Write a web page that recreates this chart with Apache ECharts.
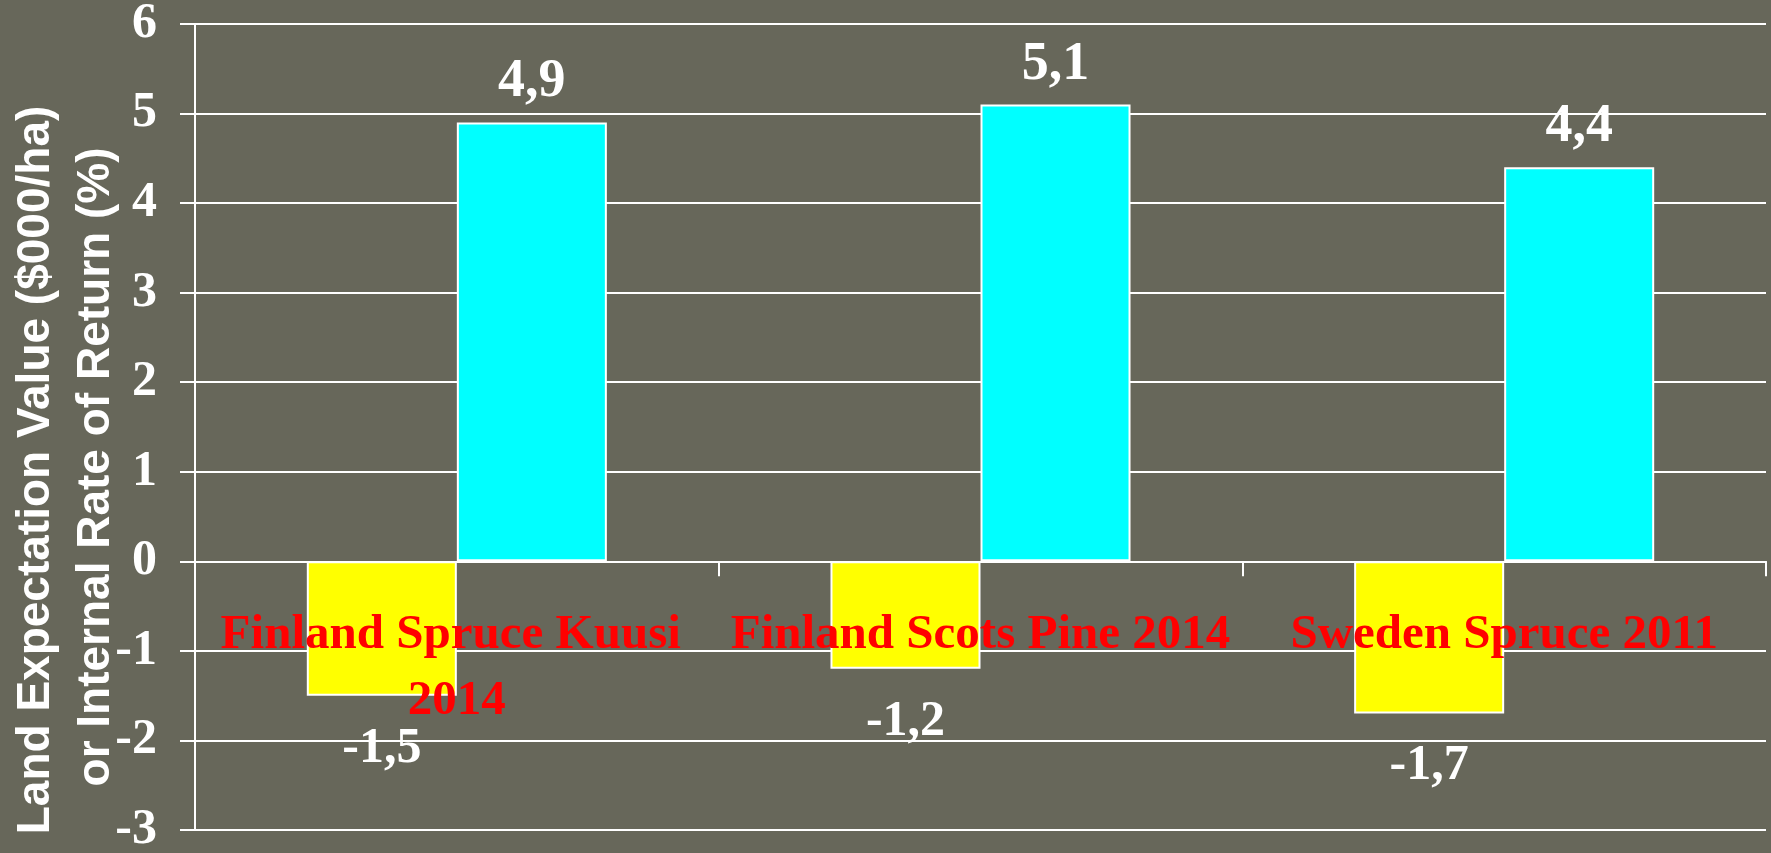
<!DOCTYPE html>
<html>
<head>
<meta charset="utf-8">
<script src="https://cdn.jsdelivr.net/npm/echarts@6/dist/echarts.min.js"></script>
<style>
html,body{margin:0;padding:0;background:#67675a;}
#chart{width:1771px;height:853px;}
</style>
</head>
<body>
<div id="chart"></div>
<script>
const categories = ['Finland Spruce Kuusi 2014', 'Finland Scots Pine 2014', 'Sweden Spruce 2011'];
const irrValues = [-1.5, -1.2, -1.7];   // yellow bars
const levValues = [4.9, 5.1, 4.4];      // cyan bars
const yTicks = { min: -3, max: 6, interval: 1 };
const yNameLines = ['Land Expectation Value ($000/ha)', 'or Internal Rate of Return (%)'];

const serif = '"Liberation Serif", "Times New Roman", serif';
const sans = '"Liberation Sans", Arial, sans-serif';
const fmt = p => p.value.toFixed(1).replace('.', ',');

const chart = echarts.init(document.getElementById('chart'), null, { renderer: 'canvas' });
chart.setOption({
  backgroundColor: '#67675a',
  animation: false,
  grid: { left: 195, right: 5, top: 24, bottom: 23, containLabel: false, outerBoundsMode: 'none' },
  xAxis: {
    type: 'category',
    data: categories,
    z: 10,
    axisLine: { show: true, onZero: true, lineStyle: { color: '#ffffff', width: 2 } },
    axisTick: { show: true, length: 15, lineStyle: { color: '#ffffff', width: 2 } },
    axisLabel: {
      interval: 0,
      color: '#ff0000',
      fontFamily: serif,
      fontWeight: 'bold',
      fontSize: 49,
      lineHeight: 66,
      width: 520,
      overflow: 'break',
      margin: -228
    },
    splitLine: { show: false }
  },
  yAxis: {
    type: 'value',
    min: yTicks.min,
    max: yTicks.max,
    interval: yTicks.interval,
    axisLine: { show: true, lineStyle: { color: '#ffffff', width: 2 } },
    axisTick: { show: true, length: 15, lineStyle: { color: '#ffffff', width: 2 } },
    axisLabel: { color: '#ffffff', fontFamily: serif, fontWeight: 'bold', fontSize: 50, margin: 38 },
    splitLine: { show: true, lineStyle: { color: '#ffffff', width: 2 } }
  },
  series: [
    {
      type: 'bar',
      data: irrValues,
      barGap: '0%',
      barCategoryGap: '42.7%',
      itemStyle: { color: '#ffff00', borderColor: '#ffffff', borderWidth: 2 },
      label: {
        show: true, position: 'bottom', distance: 28, formatter: fmt,
        color: '#ffffff', fontFamily: serif, fontWeight: 'bold', fontSize: 50
      }
    },
    {
      type: 'bar',
      data: levValues,
      barGap: '0%',
      barCategoryGap: '42.7%',
      itemStyle: { color: '#00ffff', borderColor: '#ffffff', borderWidth: 2 },
      label: {
        show: true, position: 'top', distance: 13, formatter: fmt,
        color: '#ffffff', fontFamily: serif, fontWeight: 'bold', fontSize: 54
      }
    }
  ],
  graphic: [
    {
      type: 'text', x: 36, y: 470, rotation: Math.PI / 2,
      style: { text: yNameLines[0], fill: '#ffffff', font: 'bold 46px ' + sans, textAlign: 'center', textVerticalAlign: 'middle' }
    },
    {
      type: 'text', x: 96, y: 467, rotation: Math.PI / 2,
      style: { text: yNameLines[1], fill: '#ffffff', font: 'bold 46px ' + sans, textAlign: 'center', textVerticalAlign: 'middle' }
    }
  ]
});
</script>
</body>
</html>
